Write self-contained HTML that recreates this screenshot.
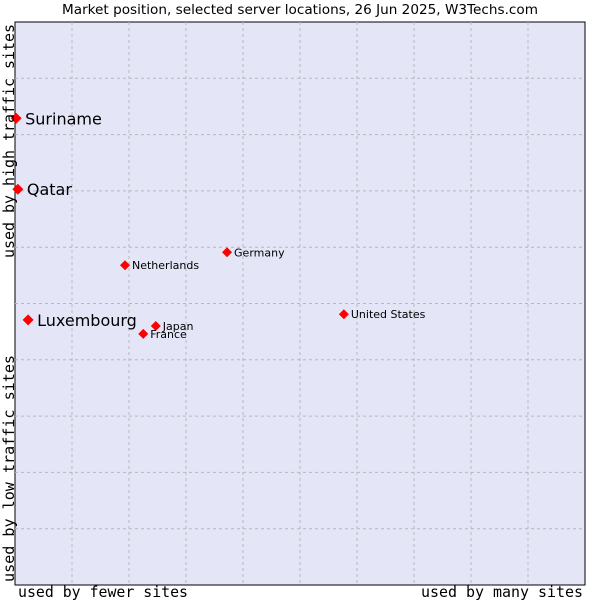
<!DOCTYPE html>
<html><head><meta charset="utf-8"><style>
body{margin:0;background:#fff}
svg text{font-family:"DejaVu Sans","Liberation Sans",sans-serif;fill:#000}
.mono{font-family:"DejaVu Sans Mono","Liberation Mono",monospace}
</style></head><body>
<svg id="chart" width="600" height="600" xmlns="http://www.w3.org/2000/svg">
<text x="62" y="14" font-size="13" textLength="476" lengthAdjust="spacingAndGlyphs">Market position, selected server locations, 26 Jun 2025, W3Techs.com</text>
<rect x="15" y="22" width="570" height="563" fill="#e4e6f8" stroke="#000" stroke-width="1"/>
<g id="grid"></g>
<g id="pts"></g>
<text class="mono" x="18" y="597" font-size="15" textLength="170" lengthAdjust="spacingAndGlyphs">used by fewer sites</text>
<text class="mono" x="421" y="597" font-size="15" textLength="162" lengthAdjust="spacingAndGlyphs">used by many sites</text>
<text class="mono" transform="translate(14,258) rotate(-90)" font-size="15" textLength="234" lengthAdjust="spacingAndGlyphs">used by high traffic sites</text>
<text class="mono" transform="translate(14,582) rotate(-90)" font-size="15" textLength="227" lengthAdjust="spacingAndGlyphs">used by low traffic sites</text>
</svg>
<script>
const names=["Suriname","Qatar","Luxembourg","Netherlands","Germany","Japan","France","United States"];
const xs=[0.2,0.5,2.3,19.3,37.2,24.7,22.5,57.7];
const ys=[82.9,70.3,47.1,56.8,59.1,46.0,44.6,48.1];
const big=[true,true,true,false,false,false,false,false];
const X=v=>15+v*5.7, Y=v=>585-v*5.63;
const ns="http://www.w3.org/2000/svg";
const g=document.getElementById('grid'), p=document.getElementById('pts');
for(let i=1;i<10;i++){
 let l=document.createElementNS(ns,'line');
 
 
 l.setAttribute('x1',X(i*10));l.setAttribute('x2',X(i*10));l.setAttribute('y1',22);l.setAttribute('y2',585);
 l.setAttribute('stroke','#b8b8b8');l.setAttribute('stroke-dasharray','3,3');g.appendChild(l);
 let h=document.createElementNS(ns,'line');
 
 
 h.setAttribute('y1',Y(i*10));h.setAttribute('y2',Y(i*10));h.setAttribute('x1',15);h.setAttribute('x2',585);
 h.setAttribute('stroke','#b8b8b8');h.setAttribute('stroke-dasharray','3,3');g.appendChild(h);
}
names.forEach((n,i)=>{
 const cx=X(xs[i]),cy=Y(ys[i]),r=big[i]?5.5:5;
 let d=document.createElementNS(ns,'polygon');
 
 
 d.setAttribute('points',`${cx},${cy-r} ${cx+r},${cy} ${cx},${cy+r} ${cx-r},${cy}`);
 d.setAttribute('fill','#f00');p.appendChild(d);
 let t=document.createElementNS(ns,'text');
 
 
 t.setAttribute('x',cx+(big[i]?9:7));t.setAttribute('y',cy+(big[i]?6:4));
 t.setAttribute('font-size',big[i]?16:11);t.setAttribute('fill','#222');
 t.textContent=n;p.appendChild(t);
});
</script>
</body></html>
